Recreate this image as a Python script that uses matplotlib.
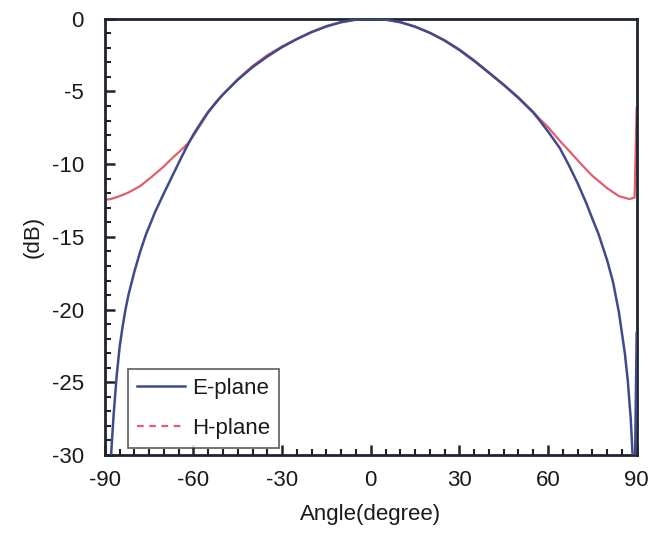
import matplotlib

matplotlib.use("Agg")
import matplotlib.pyplot as plt
from matplotlib.lines import Line2D
from matplotlib.ticker import MultipleLocator

plt.rcParams["font.family"] = ["Liberation Sans", "DejaVu Sans"]
plt.rcParams["axes.unicode_minus"] = False

# E-plane pattern (dB vs angle)
e_angle = [-89, -88, -87, -86, -85, -84, -83, -82, -80, -78, -76, -73, -70, -67,
           -64, -62, -60, -57, -55, -52, -50, -45, -40, -35, -30, -25, -20, -15,
           -10, -5, 0, 5, 10, 15, 20, 25, 30, 35, 40, 45, 50, 55, 57, 60, 64, 67,
           70, 73, 75, 77, 80, 82, 84, 86, 87, 88, 88.7, 89.3, 90]
e_db = [-33.5, -30.4, -27.2, -24.6, -22.6, -21.2, -20.0, -19.0, -17.4, -16.0,
        -14.8, -13.3, -12.0, -10.75, -9.5, -8.7, -7.95, -7.0, -6.4, -5.65,
        -5.2, -4.2, -3.33, -2.6, -1.95, -1.4, -0.92, -0.53, -0.24, -0.06, 0.0,
        -0.06, -0.24, -0.55, -0.97, -1.5, -2.15, -2.9, -3.72, -4.55, -5.45, -6.45,
        -6.95, -7.75, -8.9, -10.05, -11.3, -12.7, -13.75, -14.75, -16.6, -18.1,
        -20.2, -23.0, -24.9, -27.5, -30.3, -33.0, -21.6]

# H-plane pattern (dB vs angle)
h_angle = [-90, -88, -85, -82, -78, -74, -70, -67, -64, -62, -60, -57, -55, -50,
           -45, -40, -35, -30, -25, -20, -15, -10, -5, 0, 5, 10, 15, 20, 25, 30,
           35, 40, 45, 50, 55, 57, 60, 64, 67, 71, 75, 80, 84, 87.5, 89.3, 90]
h_db = [-12.45, -12.4, -12.2, -11.95, -11.5, -10.85, -10.15, -9.55, -9.0, -8.6,
        -8.05, -7.1, -6.45, -5.2, -4.15, -3.25, -2.5, -1.9, -1.38, -0.9, -0.5,
        -0.22, -0.05, 0.0, -0.05, -0.22, -0.53, -0.95, -1.47, -2.1, -2.85, -3.68,
        -4.52, -5.4, -6.4, -6.85, -7.45, -8.4, -9.05, -9.95, -10.8, -11.65,
        -12.2, -12.4, -12.3, -6.1]

blue = "#3d4b8c"
red = "#e05f6c"

fig = plt.figure(figsize=(6.55, 5.6), dpi=100)
ax = fig.add_axes([0.160, 0.1875, 0.812, 0.779])

ax.plot(e_angle, e_db, color=blue, linewidth=1.8, zorder=3)
ax.plot(h_angle, h_db, color=red, linewidth=1.6, zorder=2)

ax.set_xlim(-90, 90)
ax.set_ylim(-30, 0)
ax.xaxis.set_major_locator(MultipleLocator(30))
ax.xaxis.set_minor_locator(MultipleLocator(5))
ax.yaxis.set_major_locator(MultipleLocator(5))
ax.yaxis.set_minor_locator(MultipleLocator(1))

ax.tick_params(which="both", direction="in", top=False, right=False,
               colors="#222222", labelcolor="#1a1a1a", labelsize=16)
ax.tick_params(which="major", length=7, width=1.8)
ax.tick_params(which="minor", length=4.5, width=1.5)
ax.tick_params(axis="x", pad=11)
ax.tick_params(axis="y", pad=15)

for sp in ax.spines.values():
    sp.set_linewidth(2)
    sp.set_color("#1e2430")

ax.set_xlabel("Angle(degree)", fontsize=16, color="#1a1a1a", labelpad=9)
ax.set_ylabel("(dB)", fontsize=16, color="#1a1a1a", labelpad=6)

handles = [
    Line2D([0], [0], color=blue, linewidth=1.8, label="E-plane"),
    Line2D([0], [0], color=red, linewidth=1.6, linestyle=(0, (3, 2.5)), label="H-plane"),
]
leg = ax.legend(handles=handles, loc="lower left", bbox_to_anchor=(0.043, 0.016),
                fontsize=16, frameon=True, fancybox=False, handlelength=2.2,
                borderpad=0.4, labelspacing=0.85, handletextpad=0.3,
                borderaxespad=0)
leg.get_frame().set_edgecolor("#333333")
leg.get_frame().set_linewidth(1.2)
for t in leg.get_texts():
    t.set_color("#1a1a1a")

plt.savefig("out.png", dpi=100, facecolor="white")
plt.close()
